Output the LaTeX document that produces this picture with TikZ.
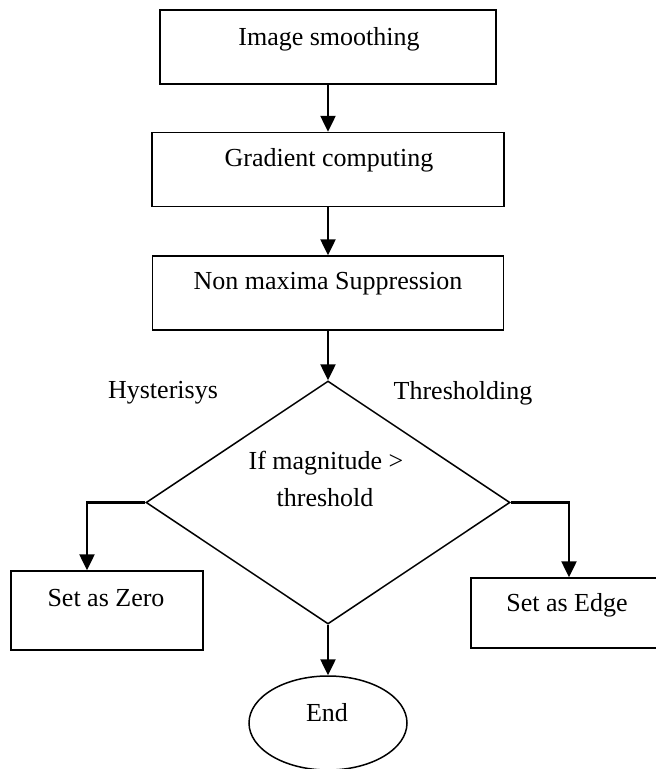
\documentclass[tikz,border=0pt]{standalone}
\usepackage{fontspec}
\setmainfont{Liberation Serif}
\usetikzlibrary{arrows.meta,shapes.geometric}
\begin{document}
\begin{tikzpicture}[x=1pt,y=-1pt,
  box/.style={draw,line width=1.5pt,inner sep=0pt},
  lbl/.style={font=\fontsize{26}{30}\selectfont,inner sep=0pt},
  arr/.style={line width=2.5pt,-{Triangle[width=15pt,length=16pt]}}]
\useasboundingbox (0,0) rectangle (656,769);
% boxes
\node[box,minimum width=336pt,minimum height=74pt] (b1) at (328,47) {};
\node[box,minimum width=352pt,minimum height=74pt] (b2) at (328,169.5) {};
\node[box,minimum width=351pt,minimum height=74pt] (b3) at (328,293) {};
\node[box,diamond,minimum width=364pt,minimum height=243pt] (dia) at (328,502.5) {};
\node[box,minimum width=192pt,minimum height=79pt] (zero) at (107,610.5) {};
\node[box,minimum width=196pt,minimum height=70pt] (edge) at (569,613) {};
\node[box,ellipse,minimum width=158pt,minimum height=94pt] (end) at (328,723) {};
% texts
\node[lbl] (t1) at (329,39) {Image smoothing};
\node[lbl] (t2) at (329,160) {Gradient computing};
\node[lbl] (t3) at (328,284) {Non maxima Suppression};
\node[lbl] (t4) at (326,463) {If magnitude >};
\node[lbl] (t5) at (325,498) {threshold};
\node[lbl] (hy) at (163,393) {Hysterisys};
\node[lbl] (th) at (463,393) {Thresholding};
\node[lbl] (t6) at (106,598) {Set as Zero};
\node[lbl] (t7) at (567,605) {Set as Edge};
\node[lbl] (t8) at (327,713) {End};
% connectors
\draw[arr] (b1.south) -- (b2.north);
\draw[arr] (b2.south) -- (b3.north);
\draw[arr] (b3.south) -- (dia.north);
\draw[arr] (dia.west) -| ([xshift=-20pt]zero.north);
\draw[arr] (dia.east) -| (edge.north);
\draw[arr] (dia.south) -- (end.north);
\end{tikzpicture}
\end{document}
